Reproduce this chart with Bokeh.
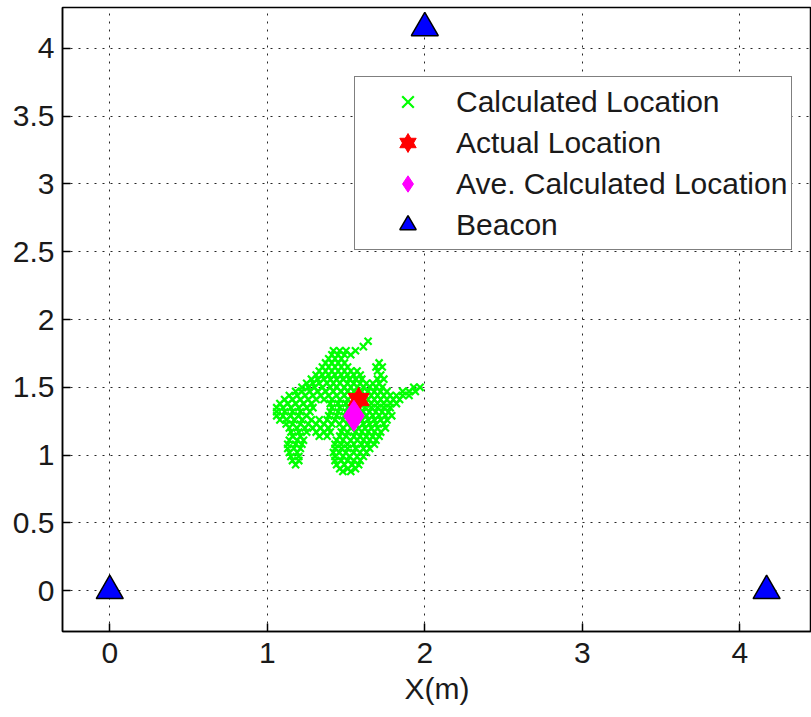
from bokeh.plotting import figure
from bokeh.models import Range1d, Legend, LegendItem, FixedTicker
from bokeh.embed import file_html
from bokeh.resources import INLINE

# ---- data ----
calc_row_y = [1.84, 1.80, 1.77, 1.74, 1.71, 1.68, 1.65, 1.62, 1.59, 1.56, 1.53,
              1.50, 1.47, 1.44, 1.41, 1.38, 1.35, 1.32, 1.29, 1.26, 1.23, 1.20,
              1.17, 1.14, 1.11, 1.08, 1.05, 1.02, 0.99, 0.96, 0.93, 0.90, 0.88]
calc_row_x = [
    [1.64],
    [1.61],
    [1.42, 1.46, 1.50, 1.56],
    [1.41, 1.45, 1.49, 1.53],
    [1.39, 1.43, 1.47],
    [1.37, 1.41, 1.45, 1.49, 1.71],
    [1.35, 1.39, 1.43, 1.47, 1.51, 1.69, 1.73],
    [1.33, 1.37, 1.41, 1.45, 1.49, 1.53, 1.57, 1.70],
    [1.31, 1.35, 1.39, 1.43, 1.47, 1.51, 1.55, 1.59, 1.72],
    [1.28, 1.32, 1.36, 1.40, 1.44, 1.48, 1.52, 1.56, 1.60, 1.70, 1.74],
    [1.25, 1.29, 1.33, 1.38, 1.42, 1.46, 1.51, 1.55, 1.59, 1.63, 1.67, 1.71],
    [1.22, 1.26, 1.30, 1.35, 1.40, 1.44, 1.49, 1.53, 1.57, 1.61, 1.65, 1.69, 1.73, 1.93, 1.97],
    [1.18, 1.22, 1.27, 1.32, 1.37, 1.42, 1.47, 1.51, 1.55, 1.60, 1.64, 1.68, 1.72, 1.76, 1.86, 1.90, 1.94],
    [1.14, 1.19, 1.24, 1.29, 1.34, 1.39, 1.44, 1.49, 1.54, 1.62, 1.66, 1.70, 1.74, 1.78, 1.82, 1.86, 1.90],
    [1.11, 1.16, 1.21, 1.26, 1.31, 1.36, 1.41, 1.46, 1.51, 1.64, 1.68, 1.72, 1.76, 1.80, 1.84],
    [1.08, 1.13, 1.18, 1.23, 1.28, 1.40, 1.45, 1.50, 1.62, 1.66, 1.70, 1.74, 1.78, 1.82],
    [1.06, 1.10, 1.15, 1.20, 1.25, 1.29, 1.41, 1.46, 1.51, 1.62, 1.66, 1.70, 1.74, 1.78],
    [1.06, 1.11, 1.16, 1.21, 1.27, 1.40, 1.45, 1.50, 1.61, 1.65, 1.69, 1.73, 1.77],
    [1.06, 1.10, 1.15, 1.20, 1.25, 1.39, 1.44, 1.49, 1.59, 1.63, 1.67, 1.71, 1.75, 1.79],
    [1.08, 1.12, 1.17, 1.22, 1.28, 1.33, 1.38, 1.43, 1.48, 1.52, 1.60, 1.64, 1.68, 1.72, 1.76],
    [1.12, 1.16, 1.21, 1.26, 1.31, 1.36, 1.41, 1.46, 1.51, 1.56, 1.61, 1.65, 1.69, 1.74],
    [1.14, 1.19, 1.24, 1.29, 1.34, 1.39, 1.48, 1.53, 1.58, 1.62, 1.66, 1.70, 1.75],
    [1.15, 1.20, 1.25, 1.31, 1.36, 1.40, 1.47, 1.51, 1.56, 1.60, 1.64, 1.68, 1.72],
    [1.16, 1.21, 1.33, 1.38, 1.46, 1.50, 1.55, 1.59, 1.63, 1.67, 1.71],
    [1.14, 1.19, 1.23, 1.44, 1.48, 1.53, 1.57, 1.61, 1.65, 1.69],
    [1.13, 1.18, 1.22, 1.43, 1.47, 1.51, 1.55, 1.60, 1.64, 1.68],
    [1.13, 1.17, 1.21, 1.43, 1.47, 1.51, 1.56, 1.61, 1.65],
    [1.14, 1.19, 1.42, 1.46, 1.50, 1.55, 1.59, 1.63],
    [1.15, 1.20, 1.43, 1.48, 1.52, 1.57, 1.61],
    [1.16, 1.20, 1.43, 1.47, 1.51, 1.55, 1.59],
    [1.18, 1.44, 1.49, 1.54, 1.58],
    [1.46, 1.51, 1.56],
    [1.48, 1.53],
]
actual_x = [1.58]
actual_y = [1.41]
ave_x = [1.55]
ave_y = [1.29]
beacon_x = [0.0, 4.17, 2.0]
beacon_y = [0.0, 0.0, 4.15]

x_ticks = [0, 1, 2, 3, 4]
y_ticks = [0, 0.5, 1, 1.5, 2, 2.5, 3, 3.5, 4]
y_tick_labels = ["0", "0.5", "1", "1.5", "2", "2.5", "3", "3.5", "4"]
x_label = "X(m)"
legend_labels = ["Calculated Location", "Actual Location", "Ave. Calculated Location", "Beacon"]

calc_x = [x for row in calc_row_x for x in row]
calc_y = [y for y, row in zip(calc_row_y, calc_row_x) for _ in row]

FONT = "Liberation Sans"

p = figure(width=811, height=717, output_backend="svg", toolbar_location=None,
           x_range=Range1d(-0.3, 4.455), y_range=Range1d(-0.3, 4.3),
           min_border_left=62, min_border_right=0, min_border_top=7, min_border_bottom=86)

p.background_fill_color = "white"
p.border_fill_color = "white"
p.outline_line_color = "black"
p.outline_line_width = 1.5

p.xaxis.ticker = FixedTicker(ticks=x_ticks)
p.yaxis.ticker = FixedTicker(ticks=y_ticks)
p.yaxis.major_label_overrides = {t: l for t, l in zip(y_ticks, y_tick_labels)}
p.xaxis.axis_label = x_label

for ax in (p.xaxis, p.yaxis):
    ax.axis_line_color = "black"
    ax.axis_line_width = 1.5
    ax.major_tick_in = 8
    ax.major_tick_out = 0
    ax.major_tick_line_color = "black"
    ax.major_tick_line_width = 1.5
    ax.minor_tick_line_color = None
    ax.major_label_text_font = FONT
    ax.major_label_text_font_size = "30px"
    ax.major_label_text_color = "#1a1a1a"
    ax.axis_label_text_font = FONT
    ax.axis_label_text_font_size = "30px"
    ax.axis_label_text_font_style = "normal"
    ax.axis_label_text_color = "#1a1a1a"
p.xaxis.major_label_standoff = 11
p.yaxis.major_label_standoff = 8
p.xaxis.axis_label_standoff = 6

p.grid.grid_line_color = "black"
p.grid.grid_line_dash = "2 6"
p.grid.grid_line_width = 1
p.grid.grid_line_alpha = 0.85

r_calc = p.scatter(calc_x, calc_y, marker="x", size=10, line_color="#00ff00", line_width=2.2)
r_star1 = p.scatter(actual_x, actual_y, marker="triangle", size=21,
                    fill_color="#ff0000", line_color="#ff0000")
r_star2 = p.scatter(actual_x, actual_y, marker="inverted_triangle", size=21,
                    fill_color="#ff0000", line_color="#ff0000")
r_ave = p.scatter(ave_x, ave_y, marker="diamond", size=31,
                  fill_color="#ff00ff", line_color="#ff00ff")
r_beacon = p.scatter(beacon_x, beacon_y, marker="triangle", size=27,
                     fill_color="#0000ff", line_color="black", line_width=1.5)

legend = Legend(items=[
    LegendItem(label=legend_labels[0], renderers=[r_calc]),
    LegendItem(label=legend_labels[1], renderers=[r_star1, r_star2]),
    LegendItem(label=legend_labels[2], renderers=[r_ave]),
    LegendItem(label=legend_labels[3], renderers=[r_beacon]),
], location=(292, 381))
legend.border_line_color = "black"
legend.border_line_width = 1.5
legend.background_fill_color = "white"
legend.background_fill_alpha = 1
legend.label_text_font = FONT
legend.label_text_font_size = "30px"
legend.label_text_color = "#1a1a1a"
legend.glyph_height = 41
legend.label_height = 41
legend.glyph_width = 97
legend.spacing = 0
legend.padding = 4
legend.label_standoff = 0
legend.margin = 0
p.add_layout(legend)

open("out.html", "w").write(file_html(p, INLINE))
